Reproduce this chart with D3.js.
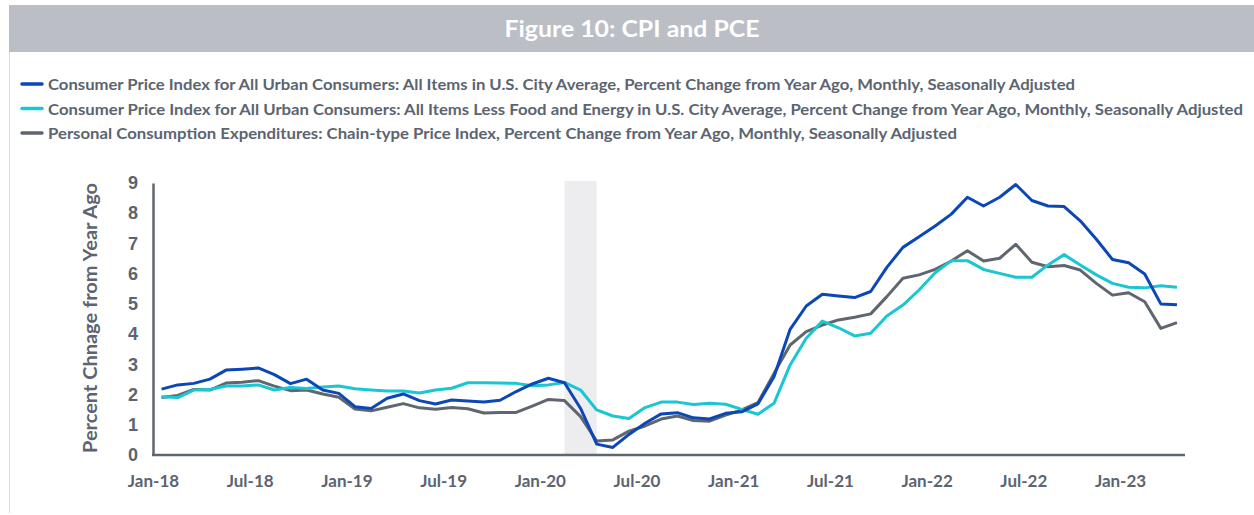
<!DOCTYPE html>
<html lang="en">
<head>
<meta charset="utf-8">
<title>Figure 10: CPI and PCE</title>
<script src="https://d3js.org/d3.v7.min.js"></script>
<style type="text/css">
body { margin: 0; background: #fff; }
svg  { display: block; font-family: Lato, "Open Sans", sans-serif; }
</style>
</head>
<body>
<script type="text/javascript">

// months Jan-18 .. Apr-23
var months = [
"2018-01","2018-02","2018-03","2018-04","2018-05","2018-06","2018-07","2018-08","2018-09","2018-10","2018-11","2018-12",
"2019-01","2019-02","2019-03","2019-04","2019-05","2019-06","2019-07","2019-08","2019-09","2019-10","2019-11","2019-12",
"2020-01","2020-02","2020-03","2020-04","2020-05","2020-06","2020-07","2020-08","2020-09","2020-10","2020-11","2020-12",
"2021-01","2021-02","2021-03","2021-04","2021-05","2021-06","2021-07","2021-08","2021-09","2021-10","2021-11","2021-12",
"2022-01","2022-02","2022-03","2022-04","2022-05","2022-06","2022-07","2022-08","2022-09","2022-10","2022-11","2022-12",
"2023-01","2023-02","2023-03","2023-04"];

// CPI all items, % change from year ago
var cpi = [
2.18,2.32,2.37,2.51,2.81,2.84,2.88,2.66,2.36,2.51,2.15,2.04,
1.60,1.54,1.88,2.02,1.80,1.69,1.82,1.79,1.75,1.81,2.10,2.35,
2.54,2.39,1.54,0.36,0.25,0.68,1.05,1.36,1.40,1.23,1.19,1.38,
1.43,1.69,2.59,4.16,4.93,5.32,5.26,5.21,5.41,6.21,6.87,7.22,
7.58,7.97,8.53,8.24,8.53,8.95,8.42,8.24,8.22,7.75,7.14,6.47,
6.36,5.99,5.00,4.97];

// CPI less food and energy
var coreCpi = [
1.93,1.90,2.15,2.17,2.28,2.28,2.32,2.15,2.23,2.20,2.25,2.28,
2.19,2.15,2.12,2.12,2.05,2.15,2.21,2.39,2.39,2.38,2.37,2.29,
2.32,2.40,2.15,1.49,1.29,1.21,1.57,1.75,1.75,1.67,1.71,1.68,
1.51,1.35,1.71,2.98,3.86,4.43,4.21,3.94,4.03,4.60,4.96,5.46,
6.03,6.43,6.43,6.14,6.01,5.88,5.88,6.29,6.63,6.29,5.96,5.68,
5.55,5.53,5.60,5.55];

// PCE chain-type price index
var pce = [
1.90,1.97,2.17,2.15,2.38,2.41,2.46,2.28,2.13,2.15,2.02,1.91,
1.52,1.46,1.58,1.70,1.56,1.51,1.57,1.53,1.39,1.41,1.41,1.62,
1.84,1.80,1.27,0.46,0.50,0.79,0.96,1.19,1.29,1.14,1.12,1.32,
1.49,1.73,2.70,3.64,4.08,4.30,4.47,4.56,4.67,5.24,5.85,5.96,
6.14,6.42,6.76,6.42,6.51,6.97,6.38,6.23,6.27,6.12,5.68,5.29,
5.37,5.07,4.19,4.38];

var seriesNames = [
"Consumer Price Index for All Urban Consumers: All Items in U.S. City Average, Percent Change from Year Ago, Monthly, Seasonally Adjusted",
"Consumer Price Index for All Urban Consumers: All Items Less Food and Energy in U.S. City Average, Percent Change from Year Ago,  Monthly, Seasonally Adjusted",
"Personal Consumption Expenditures: Chain-type Price Index, Percent Change from Year Ago, Monthly, Seasonally Adjusted"];
var seriesColors = ["#0b47b6", "#19c6d1", "#5f6670"];

var yTicks = [0,1,2,3,4,5,6,7,8,9];
var xTickMonths = ["2018-01","2018-07","2019-01","2019-07","2020-01","2020-07","2021-01","2021-07","2022-01","2022-07","2023-01"];
var recession = ["2020-02", "2020-04"];

var W = 1254, H = 515;
var textCol = "#5b6470";

var svg = d3.select("body").append("svg")
    .attr("width", W)
    .attr("height", H);

// title bar
svg.append("rect")
    .attr("x", 9).attr("y", 5).attr("width", W - 9).attr("height", 47)
    .attr("fill", "#bbbec5");
svg.append("line")
    .attr("x1", 9.5).attr("x2", 9.5).attr("y1", 52).attr("y2", 513)
    .attr("stroke", "#dcdcdf").attr("stroke-width", 1);
svg.append("text")
    .attr("x", 632).attr("y", 37)
    .attr("text-anchor", "middle")
    .attr("fill", "#fff")
    .style("font-size", "22px").style("font-weight", 700)
    .attr("textLength", 255).attr("lengthAdjust", "spacingAndGlyphs")
    .text("Figure 10: CPI and PCE");

// legend
var legendWidths = [1027, 1195, 909];
var leg = svg.append("g").selectAll("g")
    .data(seriesNames)
    .enter().append("g")
    .attr("transform", function(d, i) { return "translate(22," + (84 + i * 24.5) + ")"; });
leg.append("line")
    .attr("x1", 0).attr("x2", 20)
    .attr("stroke", function(d, i) { return seriesColors[i]; })
    .attr("stroke-width", 3.5)
    .attr("stroke-linecap", "round");
leg.append("text")
    .attr("x", 26).attr("y", 6)
    .attr("fill", textCol)
    .style("font-size", "16px").style("font-weight", 700)
    .attr("textLength", function(d, i) { return legendWidths[i]; })
    .attr("lengthAdjust", "spacingAndGlyphs")
    .text(function(d) { return d; });

// scales
var x = d3.scaleBand()
    .domain(months)
    .range([153.5, 1185])
    .padding(0);
var half = x.bandwidth() / 2;
var y = d3.scaleLinear()
    .domain([0, 9])
    .range([455, 183]);

// recession shading
svg.append("rect")
    .attr("x", x(recession[0]) + half)
    .attr("y", y(9) - 2)
    .attr("width", x(recession[1]) - x(recession[0]))
    .attr("height", y(0) - y(9) + 2)
    .attr("fill", "#ededf0");

// axes
var yAxis = svg.append("g")
    .attr("transform", "translate(153,0)")
    .call(d3.axisLeft(y).tickValues(yTicks).tickSize(0).tickPadding(16).tickFormat(d3.format("d")));
yAxis.select(".domain").attr("stroke", "#5f6670").attr("stroke-width", 2.5);
yAxis.selectAll("text")
    .attr("fill", textCol)
    .style("font-size", "18px").style("font-weight", 700)
    .attr("text-anchor", "middle").attr("dx", "-4");

var xAxis = svg.append("g")
    .attr("transform", "translate(0,455)");
xAxis.append("line")
    .attr("x1", 152).attr("x2", 1185)
    .attr("stroke", "#5f6670").attr("stroke-width", 2.5);
var fmt = d3.timeFormat("%b-%y"), parse = d3.timeParse("%Y-%m");
xAxis.selectAll("text")
    .data(xTickMonths)
    .enter().append("text")
    .attr("x", function(d) { return x(d); })
    .attr("y", 32)
    .attr("text-anchor", "middle")
    .attr("fill", textCol)
    .style("font-size", "17px").style("font-weight", 700)
    .text(function(d) { return fmt(parse(d)); });

// y title
svg.append("text")
    .attr("transform", "translate(97,318) rotate(-90)")
    .attr("text-anchor", "middle")
    .attr("fill", textCol)
    .style("font-size", "18px").style("font-weight", 700)
    .attr("textLength", 270).attr("lengthAdjust", "spacingAndGlyphs")
    .text("Percent Chnage from Year Ago");

// lines
var line = d3.line()
    .x(function(d, i) { return x(months[i]) + half; })
    .y(function(d) { return y(d); });

svg.append("g").selectAll("path")
    .data([pce, coreCpi, cpi])
    .enter().append("path")
    .attr("d", line)
    .attr("fill", "none")
    .attr("stroke", function(d, i) { return [seriesColors[2], seriesColors[1], seriesColors[0]][i]; })
    .attr("stroke-width", 3)
    .attr("stroke-linejoin", "round");

</script>
</body>
</html>
